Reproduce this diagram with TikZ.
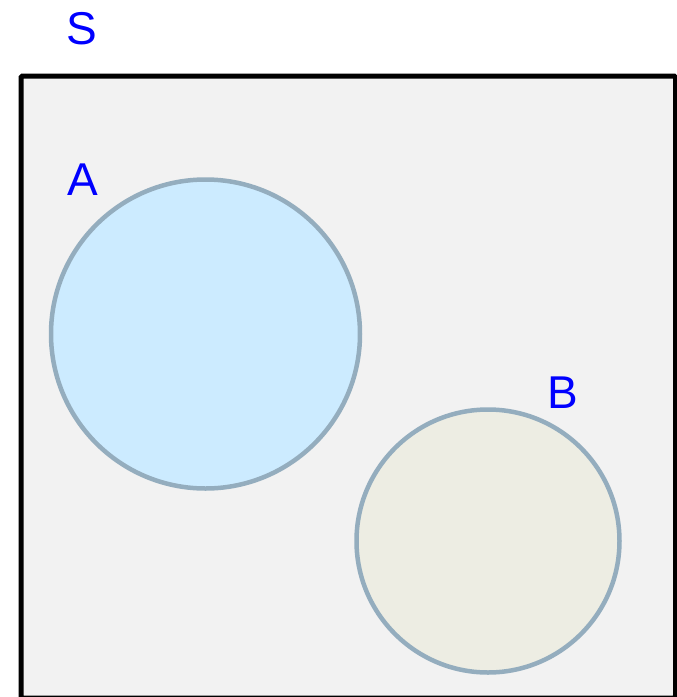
\documentclass[tikz,border=0pt]{standalone}
\usepackage{fontspec}
\setmainfont{Liberation Sans}
\definecolor{bgS}{HTML}{F2F2F2}
\definecolor{fillA}{HTML}{CCEBFF}
\definecolor{fillB}{HTML}{EDEDE3}
\definecolor{ring}{HTML}{94ADBE}
\definecolor{lab}{HTML}{0000FF}
\begin{document}
\begin{tikzpicture}[x=1pt,y=-1pt,
  setlabel/.style={text=lab,font=\fontsize{46}{46}\selectfont,inner sep=0pt,anchor=center},
  setcircle/.style={circle,draw=ring,line width=4.5pt,inner sep=0pt}]
\useasboundingbox (0,0) rectangle (677,697);
\begin{scope}
\clip (0,0) rectangle (677,697);
\node[draw=black,fill=bgS,line width=5pt,rounded corners=1.5pt,minimum width=654.5pt,minimum height=622pt,inner sep=0pt,anchor=north west] (S) at (18.5,73.5) {};
\end{scope}
\node[setcircle,fill=fillA,minimum size=309pt] (A) at (205.5,334) {};
\node[setcircle,fill=fillB,minimum size=263pt] (B) at (488,541) {};
\node[setlabel] (Slab) at (82,29) {S};
\node[setlabel] (Alab) at (83,180) {A};
\node[setlabel] (Blab) at (563,393) {B};
\end{tikzpicture}
\end{document}
